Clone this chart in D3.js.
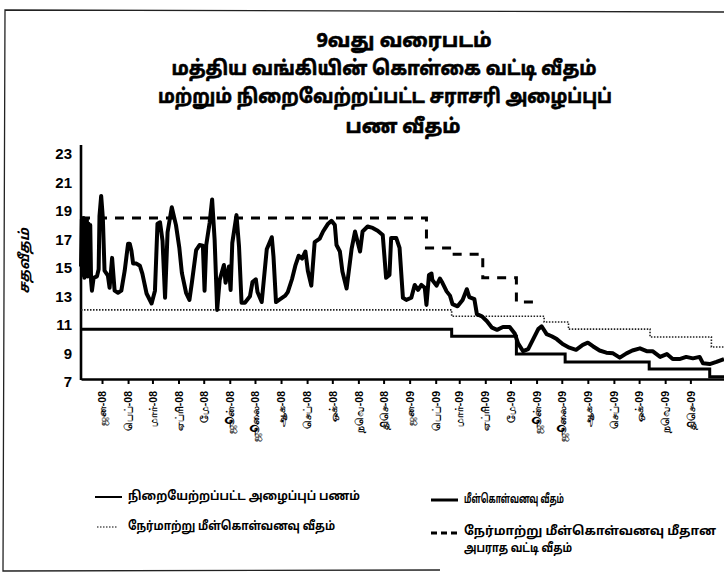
<!DOCTYPE html>
<html>
<head>
<meta charset="utf-8">
<script src="https://cdn.jsdelivr.net/npm/d3@7"></script>
<style>
  body { margin: 0; background: #fff; }
  svg { display: block; }
</style>
</head>
<body>
<div id="chart"></div>
<script>
// Central bank policy rates and weighted average call money rate, 2008-2009

const tamil = '"Noto Sans Tamil", "Latha", "Noto Sans", sans-serif';

const titleLines = [
  "9வது வரைபடம்",
  "மத்திய வங்கியின் கொள்கை வட்டி வீதம்",
  "மற்றும் நிறைவேற்றப்பட்ட சராசரி அழைப்புப்",
  "பண வீதம்"
];
const yLabel = "சதவீதம்";

const monthNames = ["ஜன", "பெப்", "மார்", "ஏப்ரி", "மே", "ஜூன்", "ஜூலை", "ஆக", "செப்", "ஒக்", "நவெ", "திசெ"];
const yTicks = [7, 9, 11, 13, 15, 17, 19, 21, 23];

// weighted average call money rate
const callDates = [
  "2007-12-07","2007-12-08","2007-12-09","2007-12-10","2007-12-11","2007-12-12","2007-12-13","2007-12-14",
  "2007-12-15","2007-12-16","2007-12-17","2007-12-18","2007-12-19","2007-12-20","2007-12-22","2007-12-26",
  "2007-12-28","2007-12-29","2007-12-31","2008-01-02","2008-01-04","2008-01-08","2008-01-10","2008-01-13",
  "2008-01-16","2008-01-20","2008-01-24","2008-01-28","2008-02-01","2008-02-03","2008-02-05","2008-02-07",
  "2008-02-11","2008-02-15","2008-02-18","2008-02-23","2008-02-29","2008-03-04","2008-03-07","2008-03-10",
  "2008-03-13","2008-03-16","2008-03-19","2008-03-24","2008-03-29","2008-04-02","2008-04-05","2008-04-10",
  "2008-04-14","2008-04-17","2008-04-22","2008-04-26","2008-04-30","2008-05-02","2008-05-04","2008-05-08",
  "2008-05-11","2008-05-14","2008-05-17","2008-05-20","2008-05-25","2008-05-27","2008-05-31","2008-06-02",
  "2008-06-04","2008-06-09","2008-06-12","2008-06-15","2008-06-19","2008-06-25","2008-06-28","2008-07-02",
  "2008-07-04","2008-07-09","2008-07-15","2008-07-21","2008-07-23","2008-07-26","2008-07-31","2008-08-06",
  "2008-08-09","2008-08-14","2008-08-18","2008-08-22","2008-08-26","2008-08-30","2008-09-02","2008-09-06",
  "2008-09-10","2008-09-16","2008-09-20","2008-09-26","2008-09-30","2008-10-04","2008-10-06","2008-10-10",
  "2008-10-13","2008-10-18","2008-10-24","2008-10-28","2008-11-03","2008-11-06","2008-11-12","2008-11-18",
  "2008-11-24","2008-11-30","2008-12-04","2008-12-08","2008-12-10","2008-12-16","2008-12-20","2008-12-24",
  "2008-12-28","2009-01-03","2009-01-07","2009-01-11","2009-01-15","2009-01-19","2009-01-21","2009-01-24",
  "2009-01-27","2009-01-28","2009-02-02","2009-02-06","2009-02-09","2009-02-14","2009-02-18","2009-02-21",
  "2009-02-27","2009-03-05","2009-03-10","2009-03-13","2009-03-19","2009-03-22","2009-03-28","2009-04-03",
  "2009-04-09","2009-04-15","2009-04-22","2009-04-30","2009-05-06","2009-05-10","2009-05-16","2009-05-22",
  "2009-05-28","2009-06-03","2009-06-07","2009-06-13","2009-06-19","2009-06-25","2009-07-02","2009-07-10",
  "2009-07-18","2009-07-26","2009-08-01","2009-08-07","2009-08-15","2009-08-23","2009-08-31","2009-09-08",
  "2009-09-16","2009-09-23","2009-10-02","2009-10-10","2009-10-17","2009-10-26","2009-11-03","2009-11-10",
  "2009-11-18","2009-11-26","2009-12-04","2009-12-12","2009-12-16","2009-12-24","2010-01-01","2010-01-10"
];
const callRates = [
  14.9, 18.2, 14.3, 18.3, 14.1, 18.0, 14.6, 18.2,
  14.2, 17.9, 14.5, 17.8, 13.9, 13.2, 14.1, 14.2,
  14.7, 18.45, 19.85, 18.3, 14.6, 14.25, 13.4, 15.5,
  13.2, 13.05, 13.2, 14.6, 16.5, 16.5, 16.0, 15.1,
  15.1, 14.95, 14.4, 13.0, 12.3, 13.2, 17.9, 18.0,
  16.7, 12.7, 17.3, 19.05, 17.8, 16.2, 14.45, 13.05,
  12.55, 13.8, 16.05, 16.4, 16.35, 13.2, 16.4, 17.95,
  19.6, 16.75, 11.85, 13.95, 15.0, 13.75, 14.9, 13.25,
  16.55, 18.5, 16.3, 12.35, 12.35, 12.8, 13.8, 14.0,
  13.1, 12.4, 16.1, 16.95, 15.6, 12.4, 12.6, 12.85,
  13.1, 14.0, 14.95, 15.65, 15.45, 15.95, 14.55, 13.55,
  16.6, 16.85, 17.35, 17.9, 18.1, 17.8, 16.4, 15.95,
  14.55, 13.35, 16.15, 17.35, 15.95, 17.35, 17.7, 17.6,
  17.4, 17.1, 14.1, 14.3, 16.9, 16.9, 16.2, 12.7,
  12.55, 12.7, 13.6, 13.25, 13.6, 13.4, 12.2, 14.3,
  14.4, 13.95, 13.55, 14.05, 13.75, 13.15, 12.85, 12.25,
  12.1, 12.55, 13.3, 12.75, 12.6, 11.55, 11.4, 11.05,
  10.6, 10.45, 10.65, 10.65, 10.2, 9.5, 8.95, 9.1,
  9.8, 10.5, 10.7, 10.15, 10.0, 9.8, 9.45, 9.2,
  9.05, 9.4, 9.55, 9.3, 9.0, 8.85, 8.8, 8.5,
  8.8, 9.0, 9.15, 8.95, 8.95, 8.55, 8.75, 8.4,
  8.4, 8.55, 8.45, 8.55, 8.1, 8.05, 8.2, 8.4
];

// repo rate (step changes, last entry closes the chart)
const repoDates = ["2007-12-07", "2009-02-20", "2009-05-08", "2009-07-05", "2009-10-13", "2009-12-24", "2010-01-10"];
const repoRates = [10.5, 10.0, 8.75, 8.2, 7.7, 7.15, 7.15];

// reverse repo rate
const revRepoDates = ["2007-12-07", "2009-02-20", "2009-06-10", "2009-07-09", "2009-10-14", "2009-12-26", "2010-01-10"];
const revRepoRates = [11.85, 11.4, 11.0, 10.5, 9.95, 9.25, 9.25];

// penal rate on reverse repo
const penalDates = ["2007-12-07", "2009-01-21", "2009-02-20", "2009-03-29", "2009-05-08", "2009-06-02"];
const penalRates = [18.3, 16.2, 15.75, 14.1, 12.4, 12.4];

const legendItems = [
  { label: "நிறையேற்றப்பட்ட அழைப்புப் பணம்", type: "call", w: [232] },
  { label: "நேர்மாற்று மீள்கொள்வனவு வீதம்", type: "revrepo", w: [207] },
  { label: "மீள்கொள்வனவு வீதம்", type: "repo", w: [100] },
  { label: ["நேர்மாற்று மீள்கொள்வனவு மீதான", "அபராத வட்டி வீதம்"], type: "penal", w: [252, 108] }
];

const width = 724, height = 581;
const parse = d3.timeParse("%Y-%m-%d");

const svg = d3.select("#chart").append("svg")
  .attr("width", width)
  .attr("height", height)
  .style("font-family", tamil);

const x = d3.scaleTime()
  .domain([parse("2007-12-07"), parse("2010-01-10")])
  .range([81, 724]);

const y = d3.scaleLinear()
  .domain([7, 23])
  .range([379, 151]);

// outer frame of the scanned page
svg.append("path")
  .attr("d", "M724,12 L5,10 L3,571 L440,570")
  .attr("fill", "none")
  .attr("stroke", "#222")
  .attr("stroke-width", 1.3);

// title
const titleX = [404, 384, 385, 403];
const titleW = [175, 425, 454, 115];
const titleY = [41, 69, 97, 127];
svg.selectAll("text.title")
  .data(titleLines)
  .enter()
  .append("text")
  .attr("class", "title")
  .attr("x", (d, i) => titleX[i])
  .attr("y", (d, i) => titleY[i])
  .attr("text-anchor", "middle")
  .attr("dominant-baseline", "middle")
  .attr("font-size", 20)
  .attr("font-weight", "bold")
  .attr("stroke", "#000")
  .attr("stroke-width", 0.6)
  .attr("textLength", (d, i) => titleW[i])
  .attr("lengthAdjust", "spacingAndGlyphs")
  .text(d => d);

// y axis
const yAxis = svg.append("g")
  .attr("transform", "translate(81,0)")
  .call(d3.axisLeft(y).tickValues(yTicks).tickSize(0).tickPadding(9));
yAxis.select(".domain").remove();
yAxis.selectAll("text")
  .attr("dy", "0.5em")
  .attr("font-family", "'Liberation Sans', Arial, sans-serif")
  .attr("font-size", 15)
  .attr("font-weight", "bold")
  .attr("fill", "#000");

svg.append("line")
  .attr("x1", 81).attr("x2", 81)
  .attr("y1", y(23) - 6).attr("y2", y(7) + 1)
  .attr("stroke", "#000")
  .attr("stroke-width", 2.6);

svg.append("text")
  .attr("transform", `translate(25,${y(15) - 4}) rotate(-90)`)
  .attr("text-anchor", "middle")
  .attr("dominant-baseline", "middle")
  .attr("font-size", 14)
  .attr("font-style", "italic")
  .attr("font-weight", "bold")
  .text(yLabel);

// x axis
const months = d3.timeMonth.range(parse("2008-01-01"), parse("2010-01-01"));
const yearFmt = d3.timeFormat("%y");
const xAxis = svg.append("g")
  .attr("transform", `translate(0,${y(7)})`)
  .call(d3.axisBottom(x)
    .tickValues(months)
    .tickSize(5)
    .tickSizeOuter(0)
    .tickFormat(d => monthNames[d.getMonth()] + "-" + yearFmt(d)));
xAxis.select(".domain")
  .attr("stroke", "#000")
  .attr("stroke-width", 2.6);
xAxis.selectAll(".tick line")
  .attr("stroke", "#000")
  .attr("stroke-width", 2);
xAxis.selectAll(".tick text")
  .attr("font-size", 10.5)
  .attr("font-weight", "bold")
  .attr("fill", "#000")
  .attr("text-anchor", "end")
  .attr("dy", "0.35em")
  .attr("transform", "translate(0,12) rotate(-90)")
  .attr("x", 0)
  .attr("y", 0);

// series
const stepLine = d3.line()
  .x(d => x(d.date))
  .y(d => y(d.value))
  .curve(d3.curveStepAfter);

const plainLine = d3.line()
  .x(d => x(d.date))
  .y(d => y(d.value));

const toPoints = (dates, values) => dates.map((d, i) => ({ date: parse(d), value: values[i] }));

svg.append("path")
  .datum(toPoints(revRepoDates, revRepoRates))
  .attr("fill", "none")
  .attr("stroke", "#222")
  .attr("stroke-width", 1.6)
  .attr("stroke-dasharray", "1.5,1.5")
  .attr("d", stepLine);

svg.append("path")
  .datum(toPoints(repoDates, repoRates))
  .attr("fill", "none")
  .attr("stroke", "#000")
  .attr("stroke-width", 3)
  .attr("d", stepLine);

svg.append("path")
  .datum(toPoints(penalDates, penalRates))
  .attr("fill", "none")
  .attr("stroke", "#000")
  .attr("stroke-width", 3)
  .attr("stroke-dasharray", "9,8")
  .attr("d", stepLine);

svg.append("path")
  .datum(toPoints(callDates, callRates))
  .attr("fill", "none")
  .attr("stroke", "#000")
  .attr("stroke-width", 4)
  .attr("stroke-linejoin", "round")
  .attr("d", plainLine);

// legend
const legendPos = [[95, 497], [95, 527], [431, 500], [431, 533]];
const legend = svg.selectAll("g.legend")
  .data(legendItems)
  .enter()
  .append("g")
  .attr("class", "legend")
  .attr("transform", (d, i) => `translate(${legendPos[i][0]},${legendPos[i][1]})`);

legend.append("line")
  .attr("x1", d => d.type === "revrepo" ? 2 : 0)
  .attr("x2", d => d.type === "revrepo" ? 23 : 27)
  .attr("stroke", "#000")
  .attr("stroke-width", d => d.type === "call" ? 2 : d.type === "revrepo" ? 1.2 : 3)
  .attr("stroke-dasharray", d => d.type === "revrepo" ? "1.5,1.5" : d.type === "penal" ? "6,4" : null);

legend.each(function (d) {
  const lines = Array.isArray(d.label) ? d.label : [d.label];
  d3.select(this).selectAll("text")
    .data(lines)
    .enter()
    .append("text")
    .attr("x", 33)
    .attr("y", (l, i) => lines.length > 1 ? -1 + i * 17 : 0)
    .attr("dominant-baseline", "middle")
    .attr("font-size", 12.5)
    .attr("font-weight", "bold")
    .attr("textLength", (l, i) => d.w[i])
    .attr("lengthAdjust", "spacingAndGlyphs")
    .text(l => l);
});
</script>
</body>
</html>
